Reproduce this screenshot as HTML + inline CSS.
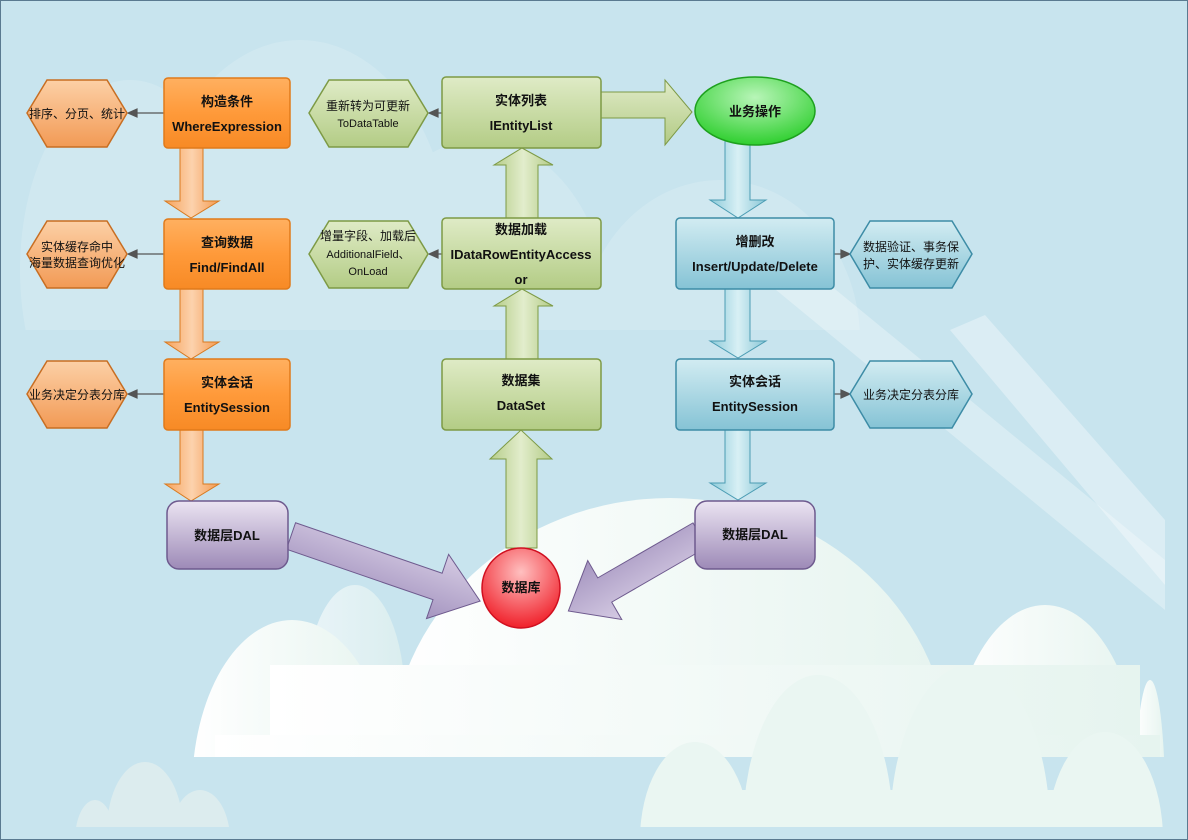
<!DOCTYPE html>
<html><head><meta charset="utf-8"><style>
html,body{margin:0;padding:0;width:1188px;height:840px;overflow:hidden;background:#c8e4ee}
svg{display:block}
text{font-family:"Liberation Sans","Noto Sans CJK SC",sans-serif;fill:#111}
.b{font-weight:bold;font-size:13px}
.s{font-size:12px}
</style></head><body>
<svg width="1188" height="840" viewBox="0 0 1188 840" xmlns="http://www.w3.org/2000/svg">
<defs>
<linearGradient id="og" x1="0" y1="0" x2="0" y2="1"><stop offset="0" stop-color="#ffb060"/><stop offset="0.5" stop-color="#ff9a3a"/><stop offset="1" stop-color="#f78a25"/></linearGradient>
<linearGradient id="ohx" x1="0" y1="0" x2="0" y2="1"><stop offset="0" stop-color="#fcd0a6"/><stop offset="1" stop-color="#f29a55"/></linearGradient>
<linearGradient id="oa" x1="0" y1="0" x2="1" y2="0"><stop offset="0" stop-color="#f7a35c"/><stop offset="0.5" stop-color="#fcd2ad"/><stop offset="1" stop-color="#f39a50"/></linearGradient>
<linearGradient id="gg" x1="0" y1="0" x2="0" y2="1"><stop offset="0" stop-color="#dfebc6"/><stop offset="1" stop-color="#b3cc85"/></linearGradient>
<linearGradient id="ga" x1="0" y1="0" x2="1" y2="0"><stop offset="0" stop-color="#b6cd89"/><stop offset="0.5" stop-color="#e2edcc"/><stop offset="1" stop-color="#b3cb86"/></linearGradient>
<linearGradient id="gah" x1="0" y1="0" x2="0" y2="1"><stop offset="0" stop-color="#e0ebc8"/><stop offset="1" stop-color="#b2ca84"/></linearGradient>
<linearGradient id="bg" x1="0" y1="0" x2="0" y2="1"><stop offset="0" stop-color="#d2ecf2"/><stop offset="1" stop-color="#85c3d5"/></linearGradient>
<linearGradient id="ba" x1="0" y1="0" x2="1" y2="0"><stop offset="0" stop-color="#8ccad9"/><stop offset="0.5" stop-color="#d8f0f5"/><stop offset="1" stop-color="#88c6d6"/></linearGradient>
<linearGradient id="pg" x1="0" y1="0" x2="0" y2="1"><stop offset="0" stop-color="#ebe4f2"/><stop offset="1" stop-color="#9d8ab7"/></linearGradient>
<linearGradient id="pa" x1="0" y1="0" x2="0" y2="1"><stop offset="0" stop-color="#d5cbe3"/><stop offset="1" stop-color="#a595c0"/></linearGradient>
<radialGradient id="eg" cx="0.5" cy="0.3" r="0.7"><stop offset="0" stop-color="#b8f5b8"/><stop offset="1" stop-color="#2fcf2f"/></radialGradient>
<radialGradient id="rg" cx="0.5" cy="0.3" r="0.7"><stop offset="0" stop-color="#ffc0c0"/><stop offset="1" stop-color="#f0202a"/></radialGradient>
<linearGradient id="cw" x1="0" y1="0" x2="1" y2="0"><stop offset="0" stop-color="#ffffff"/><stop offset="1" stop-color="#e6f4ef"/></linearGradient>
<clipPath id="c1"><rect x="0" y="0" width="1188" height="757"/></clipPath>
<clipPath id="c2"><rect x="0" y="0" width="1188" height="827"/></clipPath>
<clipPath id="c3"><rect x="0" y="0" width="1188" height="330"/></clipPath>
</defs>
<g fill="#ffffff" opacity="0.15" clip-path="url(#c3)">
<ellipse cx="300" cy="250" rx="150" ry="210"/>
<ellipse cx="130" cy="270" rx="110" ry="190"/>
<ellipse cx="480" cy="320" rx="130" ry="180"/>
<ellipse cx="720" cy="340" rx="140" ry="160"/>
</g>
<polygon points="770,285 830,285 1165,560 1165,610" fill="#ffffff" opacity="0.3"/>
<polygon points="950,330 985,315 1165,520 1165,585" fill="#ffffff" opacity="0.35"/>
<!-- big cloud -->
<g fill="url(#cw)" clip-path="url(#c1)">
<ellipse cx="670" cy="760" rx="280" ry="262"/>
<ellipse cx="1045" cy="780" rx="95" ry="175"/>
<ellipse cx="355" cy="700" rx="50" ry="115" opacity="0.6"/>
<ellipse cx="292" cy="790" rx="100" ry="170"/>
<ellipse cx="1150" cy="800" rx="15" ry="120"/>
<rect x="270" y="665" width="870" height="95"/>
<rect x="215" y="735" width="945" height="25"/>
</g>
<!-- lower right cloud -->
<g fill="#eaf6f2" clip-path="url(#c2)">
<ellipse cx="818" cy="830" rx="75" ry="155"/>
<ellipse cx="970" cy="830" rx="80" ry="165"/>
<ellipse cx="1105" cy="840" rx="58" ry="108"/>
<ellipse cx="695" cy="840" rx="55" ry="98"/>
<rect x="690" y="790" width="430" height="40"/>
<rect x="650" y="808" width="505" height="19"/>
</g>
<g fill="#dcecee" clip-path="url(#c2)">
<ellipse cx="145" cy="830" rx="38" ry="68"/>
<ellipse cx="200" cy="840" rx="30" ry="50"/>
<ellipse cx="95" cy="840" rx="20" ry="40"/>
</g>

<g fill="url(#oa)" stroke="#d97a20" stroke-width="1">
<polygon points="180,148 203,148 203,201 219,201 191,218 165,201 180,201"/>
<polygon points="180,289 203,289 203,342 219,342 191,359 165,342 180,342"/>
<polygon points="180,430 203,430 203,484 219,484 191,501 165,484 180,484"/>
</g>
<g fill="url(#ba)" stroke="#4b9cb3" stroke-width="1">
<polygon points="725,140 750,140 750,200 766,200 738,218 710,200 725,200"/>
<polygon points="725,289 750,289 750,341 766,341 738,358 710,341 725,341"/>
<polygon points="725,430 750,430 750,483 766,483 738,500 710,483 725,483"/>
</g>
<g fill="url(#ga)" stroke="#7d9a45" stroke-width="1">
<polygon points="506,218 538,218 538,165 553,165 522,148 494,165 506,165"/>
<polygon points="506,359 538,359 538,306 553,306 522,289 494,306 506,306"/>
<polygon points="506,548 537,548 537,459 552,459 521,430 490,459 506,459"/>
<polygon points="601,92 665,92 665,80 692,112 665,145 665,118 601,118" fill="url(#gah)"/>
</g>
<g fill="url(#pa)" stroke="#6e5a8e" stroke-width="1">
<g transform="translate(291,536) rotate(19)"><polygon points="0,-14 155,-14 155,-34 200,0 155,34 155,14 0,14"/></g>
<g transform="translate(700,535) rotate(150)"><polygon points="0,-14 110,-14 110,-34 152,0 110,34 110,14 0,14"/></g>
</g>

<g stroke="#555" stroke-width="1.2" fill="#555">
<line x1="164" y1="113" x2="136" y2="113"/><polygon points="128,113 137,109 137,117"/>
<line x1="164" y1="254" x2="136" y2="254"/><polygon points="128,254 137,250 137,258"/>
<line x1="164" y1="394" x2="136" y2="394"/><polygon points="128,394 137,390 137,398"/>
<line x1="442" y1="113" x2="437" y2="113"/><polygon points="429,113 438,109 438,117"/>
<line x1="442" y1="254" x2="437" y2="254"/><polygon points="429,254 438,250 438,258"/>
<line x1="834" y1="254" x2="842" y2="254"/><polygon points="850,254 841,250 841,258"/>
<line x1="834" y1="394" x2="842" y2="394"/><polygon points="850,394 841,390 841,398"/>
</g>

<g fill="url(#og)" stroke="#e07a1a" stroke-width="1.5">
<rect x="164" y="78" width="126" height="70" rx="4"/>
<rect x="164" y="219" width="126" height="70" rx="4"/>
<rect x="164" y="359" width="126" height="71" rx="4"/>
</g>
<g fill="url(#ohx)" stroke="#c86e22" stroke-width="1.5">
<polygon points="47,80 107,80 127,113 107,147 47,147 27,113"/>
<polygon points="47,221 107,221 127,254 107,288 47,288 27,254"/>
<polygon points="47,361 107,361 127,394 107,428 47,428 27,394"/>
</g>
<g fill="url(#gg)" stroke="#7d9a45" stroke-width="1.5">
<rect x="442" y="77" width="159" height="71" rx="4"/>
<rect x="442" y="218" width="159" height="71" rx="4"/>
<rect x="442" y="359" width="159" height="71" rx="4"/>
<polygon points="329,80 408,80 428,113 408,147 329,147 309,113"/>
<polygon points="329,221 408,221 428,254 408,288 329,288 309,254"/>
</g>
<g fill="url(#bg)" stroke="#3d8ca6" stroke-width="1.5">
<rect x="676" y="218" width="158" height="71" rx="4"/>
<rect x="676" y="359" width="158" height="71" rx="4"/>
<polygon points="870,221 952,221 972,254 952,288 870,288 850,254"/>
<polygon points="870,361 952,361 972,394 952,428 870,428 850,394"/>
</g>
<g fill="url(#pg)" stroke="#6e5a8e" stroke-width="1.5">
<rect x="167" y="501" width="121" height="68" rx="12"/>
<rect x="695" y="501" width="120" height="68" rx="12"/>
</g>
<ellipse cx="755" cy="111" rx="60" ry="34" fill="url(#eg)" stroke="#1ea01e" stroke-width="1.5"/>
<ellipse cx="521" cy="588" rx="39" ry="40" fill="url(#rg)" stroke="#d01020" stroke-width="1.5"/>

<g class="b" text-anchor="middle">
<text x="227" y="106">构造条件</text><text x="227" y="131">WhereExpression</text>
<text x="227" y="247">查询数据</text><text x="227" y="272">Find/FindAll</text>
<text x="227" y="387">实体会话</text><text x="227" y="412">EntitySession</text>
<text x="521" y="105">实体列表</text><text x="521" y="130">IEntityList</text>
<text x="521" y="234">数据加载</text><text x="521" y="259">IDataRowEntityAccess</text><text x="521" y="284">or</text>
<text x="521" y="385">数据集</text><text x="521" y="410">DataSet</text>
<text x="755" y="116">业务操作</text>
<text x="755" y="246">增删改</text><text x="755" y="271">Insert/Update/Delete</text>
<text x="755" y="386">实体会话</text><text x="755" y="411">EntitySession</text>
<text x="227" y="540">数据层DAL</text><text x="755" y="539">数据层DAL</text>
<text x="521" y="592">数据库</text>
</g>
<g class="s" text-anchor="middle">
<text x="77" y="118">排序、分页、统计</text>
<text x="77" y="251">实体缓存命中</text><text x="77" y="267">海量数据查询优化</text>
<text x="77" y="399">业务决定分表分库</text>
<text x="368" y="110">重新转为可更新</text><text x="368" y="127" font-family="Liberation Mono,monospace" font-size="11">ToDataTable</text>
<text x="368" y="240">增量字段、加载后</text><text x="368" y="258" font-size="11">AdditionalField、</text><text x="368" y="275" font-size="11">OnLoad</text>
<text x="911" y="251">数据验证、事务保</text><text x="911" y="268">护、实体缓存更新</text>
<text x="911" y="399">业务决定分表分库</text>
</g>
<rect x="0.5" y="0.5" width="1187" height="839" fill="none" stroke="#5a7a90" stroke-width="1"/>
</svg>
</body></html>
